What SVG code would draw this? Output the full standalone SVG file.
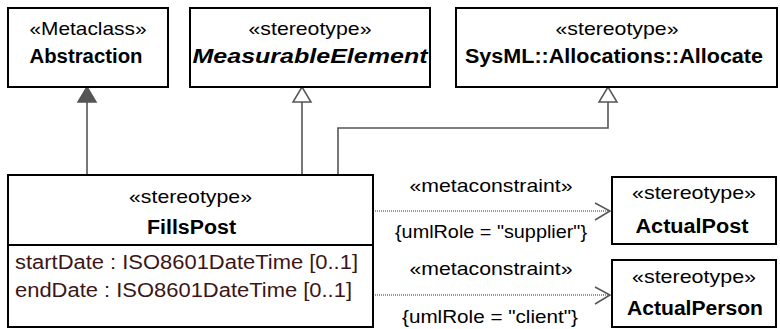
<svg xmlns="http://www.w3.org/2000/svg" width="780" height="329" viewBox="0 0 780 329">
<style>
.box{fill:#fff;stroke:#000;stroke-width:2}
.t{font-family:"Liberation Sans",Arial,sans-serif;font-size:19px;fill:#000}
.b{font-weight:bold;font-size:20px}
.i{font-style:italic}
.m{text-anchor:middle}
.attr{fill:#3c1616;font-size:19.5px}
.gen{fill:none;stroke:#555;stroke-width:1.6}
.dot{fill:none;stroke:#777;stroke-width:1.3;stroke-dasharray:1 1}
.head{fill:none;stroke:#555;stroke-width:1.5}
</style>
<g id="connectors">
  <path class="gen" d="M87,102 V175"/>
  <polygon points="87,87 78,102 96,102" fill="#555" stroke="#555" stroke-width="1.5"/>
  <path class="gen" d="M302,102 V175"/>
  <polygon points="302,87 293,102 311,102" fill="#fff" stroke="#555" stroke-width="1.5"/>
  <path class="gen" d="M608,102 V128 H338 V175"/>
  <polygon points="608,87 599,102 617,102" fill="#fff" stroke="#555" stroke-width="1.5"/>
  <path class="dot" d="M373,211 H610"/>
  <path class="head" d="M595,203 L610,211 L595,220"/>
  <path class="dot" d="M373,295 H610"/>
  <path class="head" d="M595,287 L610,295 L595,304"/>
  <text class="t m" x="491" y="192" textLength="163" lengthAdjust="spacingAndGlyphs">«metaconstraint»</text>
  <text class="t m" x="491" y="238" textLength="192" lengthAdjust="spacingAndGlyphs">{umlRole = "supplier"}</text>
  <text class="t m" x="491" y="275" textLength="163" lengthAdjust="spacingAndGlyphs">«metaconstraint»</text>
  <text class="t m" x="490" y="323" textLength="176" lengthAdjust="spacingAndGlyphs">{umlRole = "client"}</text>
</g>
<g id="Abstraction">
  <rect class="box" x="8" y="8" width="160" height="79"/>
  <text class="t m" x="88" y="35" textLength="117" lengthAdjust="spacingAndGlyphs">«Metaclass»</text>
  <text class="t b m" x="86" y="63" textLength="113" lengthAdjust="spacingAndGlyphs">Abstraction</text>
</g>
<g id="MeasurableElement">
  <rect class="box" x="190" y="8" width="240" height="79"/>
  <text class="t m" x="310" y="35" textLength="123" lengthAdjust="spacingAndGlyphs">«stereotype»</text>
  <text class="t b i m" x="310" y="63" textLength="235" lengthAdjust="spacingAndGlyphs">MeasurableElement</text>
</g>
<g id="Allocate">
  <rect class="box" x="456" y="8" width="321" height="79"/>
  <text class="t m" x="617" y="35" textLength="123" lengthAdjust="spacingAndGlyphs">«stereotype»</text>
  <text class="t b m" x="614" y="63" textLength="298" lengthAdjust="spacingAndGlyphs">SysML::Allocations::Allocate</text>
</g>
<g id="FillsPost">
  <rect class="box" x="8" y="175" width="365" height="152"/>
  <line x1="8" y1="245" x2="373" y2="245" stroke="#000" stroke-width="2"/>
  <text class="t m" x="190.5" y="203" textLength="123" lengthAdjust="spacingAndGlyphs">«stereotype»</text>
  <text class="t b m" x="191.5" y="234" textLength="89" lengthAdjust="spacingAndGlyphs">FillsPost</text>
  <text class="t attr" x="15" y="269" textLength="343" lengthAdjust="spacingAndGlyphs">startDate : ISO8601DateTime [0..1]</text>
  <text class="t attr" x="15" y="297" textLength="337" lengthAdjust="spacingAndGlyphs">endDate : ISO8601DateTime [0..1]</text>
</g>
<g id="ActualPost">
  <rect class="box" x="612" y="177" width="164" height="67"/>
  <text class="t m" x="694" y="199" textLength="124" lengthAdjust="spacingAndGlyphs">«stereotype»</text>
  <text class="t b m" x="692" y="233" textLength="113" lengthAdjust="spacingAndGlyphs">ActualPost</text>
</g>
<g id="ActualPerson">
  <rect class="box" x="612" y="260" width="164" height="67"/>
  <text class="t m" x="694" y="283" textLength="124" lengthAdjust="spacingAndGlyphs">«stereotype»</text>
  <text class="t b m" x="695" y="315" textLength="136" lengthAdjust="spacingAndGlyphs">ActualPerson</text>
</g>
</svg>
